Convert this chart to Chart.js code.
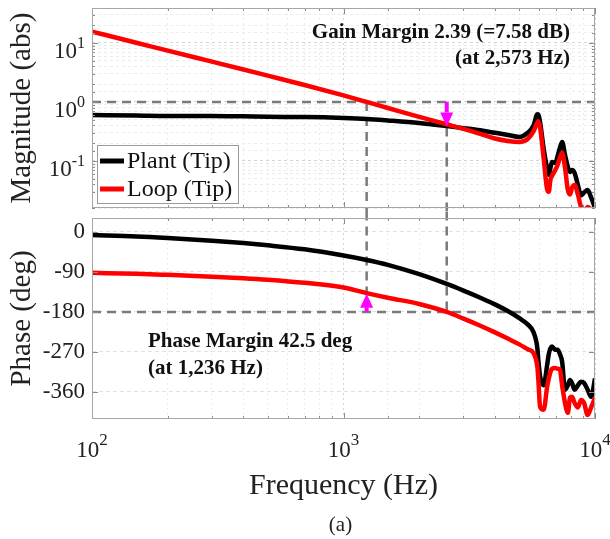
<!DOCTYPE html>
<html>
<head>
<meta charset="utf-8">
<script src="https://cdn.jsdelivr.net/npm/chart.js@4.4.1/dist/chart.umd.min.js"></script>
<style>
  html, body { margin: 0; padding: 0; background: #fff; }
  #wrap { position: relative; width: 610px; height: 539px; overflow: hidden; }
  #magChart { position: absolute; left: 0; top: 0; }
  #phaseChart { position: absolute; left: 0; top: 212px; }
</style>
</head>
<body>
<div id="wrap">
  <canvas id="magChart" width="610" height="212"></canvas>
  <canvas id="phaseChart" width="610" height="327"></canvas>
</div>
<script>
// frequency samples (Hz) shared by all four curves
const freqHz = [100, 150, 200, 300, 400, 500, 700, 1000, 1236, 1500, 2000, 2573, 3000, 3500, 4000, 4500,
  5000, 5400, 5700, 5900, 5950, 6050, 6250, 6450, 6550, 6650, 6750, 6950, 7100, 7250, 7400, 7600,
  7800, 7950, 8100, 8300, 8550, 8800, 9050, 9350, 9650, 10000];

const plantMag = [0.60, 0.59, 0.58, 0.58, 0.57, 0.56, 0.555, 0.535, 0.515, 0.486, 0.44, 0.39, 0.36, 0.33, 0.30, 0.276,
  0.255, 0.30, 0.40, 0.62, 0.61, 0.45, 0.16, 0.075, 0.058, 0.076, 0.096, 0.093, 0.12, 0.166, 0.21, 0.126,
  0.079, 0.065, 0.07, 0.062, 0.039, 0.026, 0.029, 0.032, 0.024, 0.016];
const loopMag = [15.6, 10.1, 7.4, 4.82, 3.55, 2.79, 1.94, 1.29, 1.0, 0.79, 0.557, 0.418, 0.35, 0.287, 0.24, 0.218,
  0.21, 0.235, 0.32, 0.45, 0.47, 0.37, 0.11, 0.033, 0.030, 0.048, 0.056, 0.07, 0.085, 0.113, 0.137, 0.076,
  0.032, 0.027, 0.035, 0.039, 0.027, 0.0165, 0.0137, 0.0165, 0.015, 0.0135];
const plantPhase = [-7, -10, -13.5, -19.5, -25, -30, -39, -53, -63, -74, -95, -117, -132, -148, -163, -178,
  -194, -208, -226, -262, -288, -325, -345, -300, -275, -262, -258, -265, -265, -275, -292, -355,
  -345, -333, -340, -355, -345, -337, -340, -355, -371, -330];
const loopPhase = [-92, -94, -96.5, -100.5, -104, -107.5, -114.5, -125, -137.5, -148, -162, -180, -195, -211, -226, -240,
  -253, -264, -273, -304, -330, -394, -400, -349, -330, -315, -308, -306, -308, -310, -345, -385,
  -407, -373, -371, -385, -395, -378, -385, -412, -395, -373];

const freqTicks = [100, 1000, 10000];
const magTicks = [0.1, 1, 10];
const phaseTicks = [-360, -270, -180, -90, 0];

// margins
const gmFreq = 2573, gmArrow = [1.0, 0.385];
const pmFreq = 1236, pmArrow = [-180, -139];

const serif = "'Liberation Serif', 'Times New Roman', serif";
const txt = '#222';

const xy = ys => freqHz.map((f, i) => ({ x: f, y: ys[i] }));
const isDecade = v => Math.abs(Math.log10(v) - Math.round(Math.log10(v))) < 1e-6;

function drawPow(ctx, x, y, exp, big, small, align) {
  ctx.font = big + 'px ' + serif;
  const wb = ctx.measureText('10').width;
  ctx.font = small + 'px ' + serif;
  const ws = ctx.measureText(exp).width;
  let x0 = align === 'right' ? x - wb - ws : x - (wb + ws) / 2;
  ctx.textAlign = 'left';
  ctx.textBaseline = 'alphabetic';
  ctx.fillStyle = txt;
  ctx.font = big + 'px ' + serif;
  ctx.fillText('10', x0, y.base);
  ctx.font = small + 'px ' + serif;
  ctx.fillText(exp, x0 + wb, y.sup);
}

function arrow(ctx, x, y0, y1) {
  const dir = y1 > y0 ? 1 : -1;
  const head = 14, half = 6.5;
  ctx.fillStyle = '#ff00ff';
  ctx.strokeStyle = '#ff00ff';
  ctx.lineWidth = 4;
  ctx.beginPath();
  ctx.moveTo(x, y0);
  ctx.lineTo(x, y1 - dir * head);
  ctx.stroke();
  ctx.beginPath();
  ctx.moveTo(x - half, y1 - dir * head);
  ctx.lineTo(x + half, y1 - dir * head);
  ctx.lineTo(x, y1);
  ctx.closePath();
  ctx.fill();
}

const decor = {
  id: 'decor',
  afterDatasetsDraw(chart, args, o) {
    const { ctx, chartArea: a, scales } = chart;
    ctx.save();
    // inner tick marks + box
    ctx.strokeStyle = '#8c8c8c';
    ctx.lineWidth = 1;
    ctx.beginPath();
    scales.x.ticks.forEach(t => {
      const px = Math.round(scales.x.getPixelForValue(t.value)) + 0.5;
      const len = isDecade(t.value) ? 6 : 3;
      ctx.moveTo(px, a.bottom); ctx.lineTo(px, a.bottom - len);
      ctx.moveTo(px, a.top); ctx.lineTo(px, a.top + len);
    });
    scales.y.ticks.forEach(t => {
      const py = Math.round(scales.y.getPixelForValue(t.value)) + 0.5;
      const len = (!o.yLog || isDecade(t.value)) ? 6 : 3;
      ctx.moveTo(a.left, py); ctx.lineTo(a.left + len, py);
      ctx.moveTo(a.right, py); ctx.lineTo(a.right - len, py);
    });
    ctx.stroke();
    ctx.strokeStyle = '#a6a6a6';
    ctx.strokeRect(Math.round(a.left) + 0.5, Math.round(a.top) + 0.5,
      Math.round(a.width) - 1, Math.round(a.height) - 1);

    // log tick labels
    if (o.yLog) {
      magTicks.forEach(v => {
        const py = scales.y.getPixelForValue(v);
        drawPow(ctx, a.left - 7, { base: py + 15, sup: py + 5 }, String(Math.round(Math.log10(v))), 23, 16, 'right');
      });
    }
    if (o.xLabels) {
      freqTicks.forEach(v => {
        const px = scales.x.getPixelForValue(v);
        drawPow(ctx, px, { base: a.bottom + 38, sup: a.bottom + 26 }, String(Math.round(Math.log10(v))), 23, 17, 'center');
      });
      ctx.font = '21px ' + serif;
      ctx.textAlign = 'center';
      ctx.fillStyle = txt;
      ctx.fillText('(a)', a.left + a.width / 2 - 3, a.bottom + 112);
    }

    // margin arrows
    if (o.arrow) {
      const px = scales.x.getPixelForValue(o.arrow.x);
      arrow(ctx, px, scales.y.getPixelForValue(o.arrow.from), scales.y.getPixelForValue(o.arrow.to));
    }

    // notes
    ctx.fillStyle = '#111';
    ctx.font = 'bold 21px ' + serif;
    ctx.textBaseline = 'alphabetic';
    (o.notes || []).forEach(n => {
      ctx.textAlign = n.align;
      ctx.fillText(n.text, n.right ? a.right - n.dx : a.left + n.dx, a.top + n.dy);
    });

    // legend box
    if (o.legend) {
      const lx = a.left + 5, ly = a.top + 137;
      ctx.fillStyle = '#fff';
      ctx.fillRect(lx, ly, 141, 58);
      ctx.strokeStyle = '#9a9a9a';
      ctx.lineWidth = 1;
      ctx.strokeRect(lx + 0.5, ly + 0.5, 141, 58);
      const items = chart.data.datasets.filter(d => d.inLegend).sort((p, q) => p.legendPos - q.legendPos);
      items.forEach((d, i) => {
        const yy = ly + 16 + i * 28;
        ctx.strokeStyle = d.borderColor;
        ctx.lineWidth = 5;
        ctx.beginPath();
        ctx.moveTo(lx + 3, yy);
        ctx.lineTo(lx + 27, yy);
        ctx.stroke();
        ctx.fillStyle = '#111';
        ctx.font = '24px ' + serif;
        ctx.textAlign = 'left';
        ctx.textBaseline = 'middle';
        ctx.fillText(d.label, lx + 30, yy + 1);
      });
    }
    ctx.restore();
  }
};

const gridColor = c => (c.tick && isDecade(c.tick.value)) ? '#d4d4d4' : '#ececec';
const guide = { borderColor: '#7a7a7a', borderWidth: 2.5, borderDash: [9, 6], pointRadius: 0, order: 3 };

function fitW(s) { s.width = 92; s.paddingTop = 0; s.paddingBottom = 0; }

new Chart(document.getElementById('magChart'), {
  type: 'line',
  data: {
    datasets: [
      { label: 'Plant (Tip)', data: xy(plantMag), borderColor: '#000', borderWidth: 4.5, pointRadius: 0,
        cubicInterpolationMode: 'monotone', order: 2, inLegend: true, legendPos: 0 },
      { label: 'Loop (Tip)', data: xy(loopMag), borderColor: '#ff0000', borderWidth: 4.5, pointRadius: 0,
        cubicInterpolationMode: 'monotone', order: 1, inLegend: true, legendPos: 1 },
      { ...guide, label: 'unity', data: [{ x: 100, y: 1 }, { x: 10000, y: 1 }] },
      { ...guide, label: 'pm', clip: false, data: [{ x: pmFreq, y: 1 }, { x: pmFreq, y: 1e-4 }] },
      { ...guide, label: 'gm', clip: false, data: [{ x: gmFreq, y: gmArrow[1] * 0.96 }, { x: gmFreq, y: 1e-4 }] }
    ]
  },
  options: {
    responsive: false,
    animation: false,
    layout: { padding: { left: 0, right: 15, top: 8, bottom: 4 } },
    plugins: {
      legend: { display: false },
      tooltip: { enabled: false },
      decor: {
        yLog: true,
        arrow: { x: gmFreq, from: gmArrow[0], to: gmArrow[1] },
        notes: [
          { text: 'Gain Margin 2.39 (=7.58 dB)', align: 'right', right: true, dx: 25, dy: 30 },
          { text: '(at 2,573 Hz)', align: 'right', right: true, dx: 25, dy: 56 }
        ],
        legend: true
      }
    },
    scales: {
      x: {
        type: 'logarithmic', min: 100, max: 10000,
        ticks: { display: false },
        grid: { color: gridColor, drawTicks: false },
        border: { display: false, dash: [2, 3] },
        afterFit: s => { s.height = 0; }
      },
      y: {
        type: 'logarithmic', min: 0.0159, max: 39.2,
        ticks: { display: false },
        grid: { color: gridColor, drawTicks: false },
        border: { display: false, dash: [3, 3] },
        title: { display: true, text: 'Magnitude (abs)', color: txt,
          font: { family: serif, size: 29, lineHeight: 1 }, padding: { top: 8, bottom: 0 } },
        afterFit: fitW
      }
    }
  },
  plugins: [decor]
});

new Chart(document.getElementById('phaseChart'), {
  type: 'line',
  data: {
    datasets: [
      { label: 'Plant (Tip)', data: xy(plantPhase), borderColor: '#000', borderWidth: 4.5, pointRadius: 0,
        cubicInterpolationMode: 'monotone', order: 2 },
      { label: 'Loop (Tip)', data: xy(loopPhase), borderColor: '#ff0000', borderWidth: 4.5, pointRadius: 0,
        cubicInterpolationMode: 'monotone', order: 1 },
      { ...guide, label: 'm180', data: [{ x: 100, y: -180 }, { x: 10000, y: -180 }] },
      { ...guide, label: 'pm', clip: false, data: [{ x: pmFreq, y: 80 }, { x: pmFreq, y: -180 }] },
      { ...guide, label: 'gm', clip: false, data: [{ x: gmFreq, y: 80 }, { x: gmFreq, y: -180 }] }
    ]
  },
  options: {
    responsive: false,
    animation: false,
    layout: { padding: { left: 0, right: 15, top: 6, bottom: 0 } },
    plugins: {
      legend: { display: false },
      tooltip: { enabled: false },
      decor: {
        yLog: false,
        xLabels: true,
        arrow: { x: pmFreq, from: pmArrow[0], to: pmArrow[1] },
        notes: [
          { text: 'Phase Margin 42.5 deg', align: 'left', dx: 56, dy: 129 },
          { text: '(at 1,236 Hz)', align: 'left', dx: 56, dy: 156 }
        ]
      }
    },
    scales: {
      x: {
        type: 'logarithmic', min: 100, max: 10000,
        ticks: { display: false },
        grid: { color: gridColor, drawTicks: false },
        border: { display: false, dash: [2, 3] },
        title: { display: true, text: 'Frequency (Hz)', color: txt,
          font: { family: serif, size: 30, lineHeight: 1 }, padding: { top: 0, bottom: 38 } },
        afterFit: s => { s.height = 120; s.paddingLeft = 0; s.paddingRight = 0; }
      },
      y: {
        type: 'linear', min: -421, max: 31.5,
        afterBuildTicks: s => { s.ticks = phaseTicks.map(v => ({ value: v })); },
        ticks: { color: txt, padding: 7, font: { family: serif, size: 23 } },
        grid: { color: '#e2e2e2', drawTicks: false },
        border: { display: false, dash: [4, 3] },
        title: { display: true, text: 'Phase (deg)', color: txt,
          font: { family: serif, size: 29, lineHeight: 1 }, padding: { top: 8, bottom: 0 } },
        afterFit: fitW
      }
    }
  },
  plugins: [decor]
});
</script>
</body>
</html>
